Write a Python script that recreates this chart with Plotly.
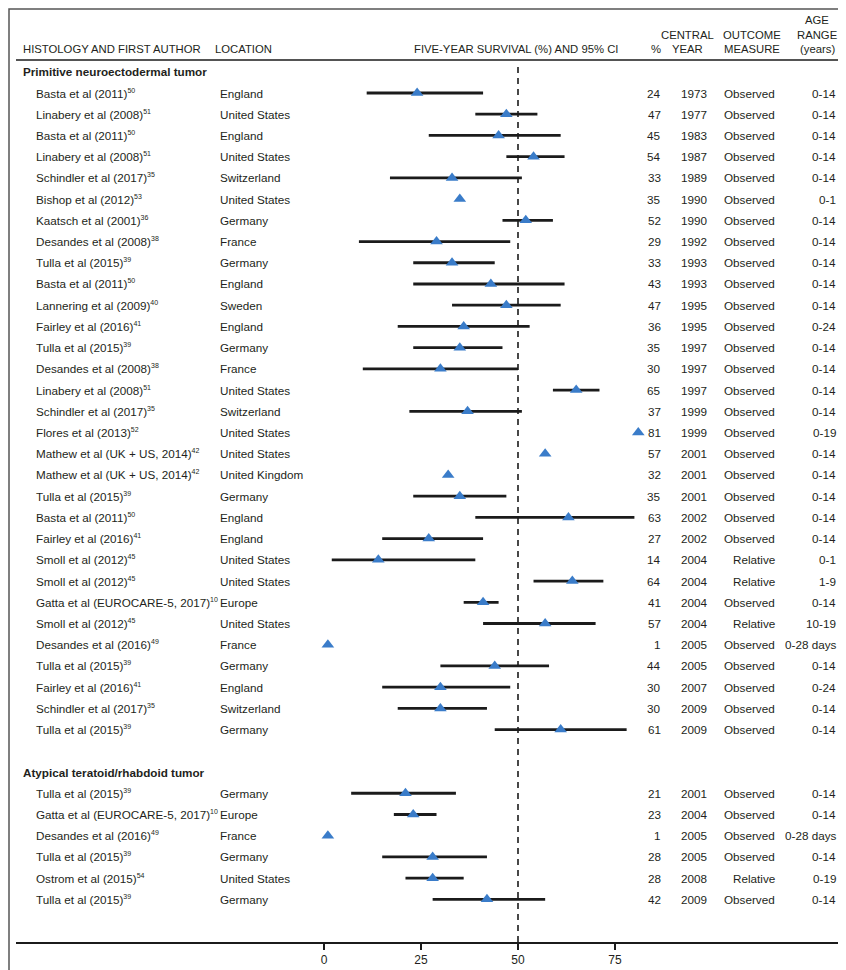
import plotly.graph_objects as go

# ---------------- data ----------------
section_titles = ["Primitive neuroectodermal tumor", "Atypical teratoid/rhabdoid tumor"]

pnet_authors = ["Basta et al (2011)", "Linabery et al (2008)", "Basta et al (2011)", "Linabery et al (2008)",
                "Schindler et al (2017)", "Bishop et al (2012)", "Kaatsch et al (2001)", "Desandes et al (2008)",
                "Tulla et al (2015)", "Basta et al (2011)", "Lannering et al (2009)", "Fairley et al (2016)",
                "Tulla et al (2015)", "Desandes et al (2008)", "Linabery et al (2008)", "Schindler et al (2017)",
                "Flores et al (2013)", "Mathew et al (UK + US, 2014)", "Mathew et al (UK + US, 2014)",
                "Tulla et al (2015)", "Basta et al (2011)", "Fairley et al (2016)", "Smoll et al (2012)",
                "Smoll et al (2012)", "Gatta et al (EUROCARE-5, 2017)", "Smoll et al (2012)",
                "Desandes et al (2016)", "Tulla et al (2015)", "Fairley et al (2016)", "Schindler et al (2017)",
                "Tulla et al (2015)"]
pnet_refs = ["50", "51", "50", "51", "35", "53", "36", "38", "39", "50", "40", "41", "39", "38", "51", "35",
             "52", "42", "42", "39", "50", "41", "45", "45", "10", "45", "49", "39", "41", "35", "39"]
pnet_locations = ["England", "United States", "England", "United States", "Switzerland", "United States",
                  "Germany", "France", "Germany", "England", "Sweden", "England", "Germany", "France",
                  "United States", "Switzerland", "United States", "United States", "United Kingdom",
                  "Germany", "England", "England", "United States", "United States", "Europe",
                  "United States", "France", "Germany", "England", "Switzerland", "Germany"]
pnet_pct = [24, 47, 45, 54, 33, 35, 52, 29, 33, 43, 47, 36, 35, 30, 65, 37, 81, 57, 32, 35, 63, 27, 14, 64,
            41, 57, 1, 44, 30, 30, 61]
pnet_lo = [11, 39, 27, 47, 17, None, 46, 9, 23, 23, 33, 19, 23, 10, 59, 22, None, None, None, 23, 39, 15, 2,
           54, 36, 41, None, 30, 15, 19, 44]
pnet_hi = [41, 55, 61, 62, 51, None, 59, 48, 44, 62, 61, 53, 46, 50, 71, 51, None, None, None, 47, 80, 41, 39,
           72, 45, 70, None, 58, 48, 42, 78]
pnet_year = [1973, 1977, 1983, 1987, 1989, 1990, 1990, 1992, 1993, 1993, 1995, 1995, 1997, 1997, 1997, 1999,
             1999, 2001, 2001, 2001, 2002, 2002, 2004, 2004, 2004, 2004, 2005, 2005, 2007, 2009, 2009]
pnet_measure = ["Observed"] * 22 + ["Relative", "Relative", "Observed", "Relative"] + ["Observed"] * 5
pnet_age = ["0-14", "0-14", "0-14", "0-14", "0-14", "0-1", "0-14", "0-14", "0-14", "0-14", "0-14", "0-24",
            "0-14", "0-14", "0-14", "0-14", "0-19", "0-14", "0-14", "0-14", "0-14", "0-14", "0-1", "1-9",
            "0-14", "10-19", "0-28 days", "0-14", "0-24", "0-14", "0-14"]

atrt_authors = ["Tulla et al (2015)", "Gatta et al (EUROCARE-5, 2017)", "Desandes et al (2016)",
                "Tulla et al (2015)", "Ostrom et al (2015)", "Tulla et al (2015)"]
atrt_refs = ["39", "10", "49", "39", "54", "39"]
atrt_locations = ["Germany", "Europe", "France", "Germany", "United States", "Germany"]
atrt_pct = [21, 23, 1, 28, 28, 42]
atrt_lo = [7, 18, None, 15, 21, 28]
atrt_hi = [34, 29, None, 42, 36, 57]
atrt_year = [2001, 2004, 2005, 2005, 2008, 2009]
atrt_measure = ["Observed", "Observed", "Observed", "Observed", "Relative", "Observed"]
atrt_age = ["0-14", "0-14", "0-28 days", "0-14", "0-19", "0-14"]

header_lines = {
    "author": ["HISTOLOGY AND FIRST AUTHOR"],
    "location": ["LOCATION"],
    "forest": ["FIVE-YEAR SURVIVAL (%) AND 95% CI"],
    "pct": ["%"],
    "year": ["CENTRAL", "YEAR"],
    "measure": ["OUTCOME", "MEASURE"],
    "age": ["AGE", "RANGE", "(years)"],
}
tick_vals = [0, 25, 50, 75]
reference_value = 50

# ---------------- layout geometry ----------------
FW, FH = 846, 970
L, R_EDGE = 8, 836          # plot area left/right (px)
PLOT_BOTTOM = 934           # axis line (px)
W = R_EDGE - L
PX0, PX_PER = 316.0, 3.88   # px of value 0, px per unit
ROW0, ROW_H = 85.0, 21.22   # px of first row, row pitch

xmin = -(PX0 - L) / PX_PER
xmax = xmin + W / PX_PER
ytop = -ROW0 / ROW_H
ybot = (PLOT_BOTTOM - ROW0) / ROW_H


def XP(px):
    return (px - L) / W


def YP(py):
    return 1 - py / PLOT_BOTTOM


FONT = "Liberation Sans, Arial, Helvetica, sans-serif"
TXT = "#231f20"
BLUE = "#3a7cc9"
RSIZE = 11.7

# ---------------- build rows ----------------
rows = []
section_rows = []
r = -1
for title, au, rf, lc, pc, lo, hi, yr, ms, ag in [
    (section_titles[0], pnet_authors, pnet_refs, pnet_locations, pnet_pct, pnet_lo, pnet_hi, pnet_year,
     pnet_measure, pnet_age),
    (section_titles[1], atrt_authors, atrt_refs, atrt_locations, atrt_pct, atrt_lo, atrt_hi, atrt_year,
     atrt_measure, atrt_age)]:
    section_rows.append((r, title))
    r += 1
    for k in range(len(au)):
        rows.append((r, au[k], rf[k], lc[k], pc[k], lo[k], hi[k], yr[k], ms[k], ag[k]))
        r += 1
    r += 1  # blank line between sections

fig = go.Figure()

# CI lines
cx, cy = [], []
for (ri, au, rf, lc, pc, lo, hi, yr, ms, ag) in rows:
    if lo is not None:
        cx += [lo, hi, None]
        cy += [ri, ri, None]
fig.add_trace(go.Scatter(x=cx, y=cy, mode="lines", line=dict(color="#1b1b1b", width=2.8),
                         hoverinfo="skip", showlegend=False, cliponaxis=False))

# reference dashed line
fig.add_shape(type="line", xref="x", yref="paper", x0=reference_value, x1=reference_value,
              y0=0, y1=YP(54), line=dict(color="#1b1b1b", width=1.6, dash="6px,5px"), layer="below")

# point estimates
fig.add_trace(go.Scatter(x=[row[4] for row in rows], y=[row[0] for row in rows], mode="markers",
                         marker=dict(symbol="triangle-up", size=11, color=BLUE, line=dict(width=0)),
                         hoverinfo="skip", showlegend=False, cliponaxis=False))

ann = []


def add_text(px, y, text, anchor, bold=False, yref="y", size=RSIZE):
    ann.append(dict(x=XP(px), xref="paper", y=y, yref=yref, text=("<b>%s</b>" % text) if bold else text,
                    showarrow=False, xanchor=anchor, yanchor="middle",
                    font=dict(family=FONT, size=size, color=TXT)))


for (ri, title) in section_rows:
    add_text(13, ri, title, "left", bold=True)

for (ri, au, rf, lc, pc, lo, hi, yr, ms, ag) in rows:
    add_text(26, ri, '%s<sup><span style="font-size:7px">%s</span></sup>' % (au, rf), "left")
    add_text(210, ri, lc, "left")
    add_text(655, ri, str(pc), "right")
    add_text(686, ri, str(yr), "center")
    add_text(769, ri, ms, "right")
    add_text(830, ri, ag, "right")

# header
HDR_BOTTOM = 41
HDR_STEP = 14.3
HSIZE = 11.3


def hdr(px, lines, anchor):
    n = len(lines)
    for j, t in enumerate(lines):
        py = HDR_BOTTOM - (n - 1 - j) * HDR_STEP
        add_text(px, YP(py), t, anchor, yref="paper", size=HSIZE)


hdr(13, header_lines["author"], "left")
hdr(205, header_lines["location"], "left")
hdr(612, header_lines["forest"], "right")
hdr(655, header_lines["pct"], "right")
hdr(679, header_lines["year"], "center")
hdr(744, header_lines["measure"], "center")
hdr(809, header_lines["age"], "center")

# header rule
fig.add_shape(type="line", xref="paper", yref="paper", x0=XP(8), x1=XP(838), y0=YP(52), y1=YP(52),
              line=dict(color="#1b1b1b", width=1.5))
# outer frame
fig.add_shape(type="rect", xref="paper", yref="paper", x0=XP(1), x1=XP(845), y0=YP(969), y1=YP(1),
              line=dict(color="#555555", width=1.5))

fig.update_layout(
    width=FW, height=FH, autosize=False,
    margin=dict(l=L, r=FW - R_EDGE, t=0, b=FH - PLOT_BOTTOM, pad=0),
    paper_bgcolor="white", plot_bgcolor="white",
    annotations=ann,
    xaxis=dict(range=[xmin, xmax], tickvals=tick_vals, ticks="outside", ticklen=6, tickwidth=1.5,
               tickcolor="#1b1b1b", showline=True, linecolor="#1b1b1b", linewidth=1.5, showgrid=False,
               zeroline=False, tickfont=dict(family=FONT, size=12, color=TXT), automargin=False,
               fixedrange=True),
    yaxis=dict(range=[ybot, ytop], visible=False, showgrid=False, zeroline=False, automargin=False,
               fixedrange=True),
    showlegend=False,
)

fig.write_html("out.html")
